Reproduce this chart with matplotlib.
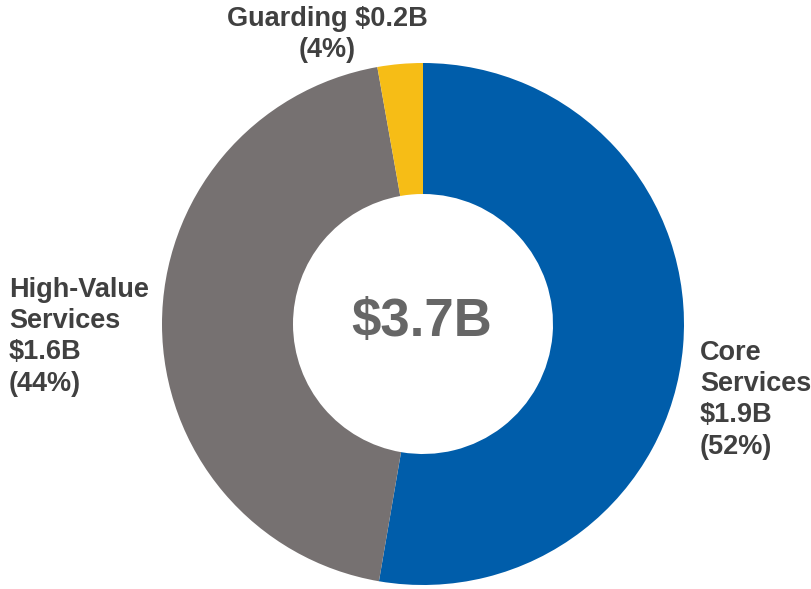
import matplotlib.pyplot as plt

segments = ['Core Services', 'High-Value Services', 'Guarding']
shares = [52.7, 44.5, 2.8]
labels = ['Core\nServices\n$1.9B\n(52%)',
          'High-Value\nServices\n$1.6B\n(44%)',
          'Guarding $0.2B\n(4%)']
total_label = '$3.7B'
colors = ['#005DAA', '#767171', '#F6BD16']

plt.rcParams['font.family'] = ['Liberation Sans', 'DejaVu Sans']

fig = plt.figure(figsize=(8.12, 5.89), dpi=100)
ax = fig.add_axes([0, 0, 1, 1])

ax.pie(shares, colors=colors, startangle=90, counterclock=False,
       center=(423, 265), radius=261,
       wedgeprops=dict(width=131, edgecolor='none'))
ax.set_xlim(0, 812)
ax.set_ylim(0, 589)
ax.set_aspect('equal')
ax.axis('off')

ax.text(422, 267, total_label, ha='center', va='center', fontsize=38,
        fontweight='bold', color='#666666')

txt = dict(fontsize=19.5, fontweight='bold', color='#404040', linespacing=1.26)
ax.text(700, 249, labels[0], ha='left', va='top', **txt)
ax.text(9, 312, labels[1], ha='left', va='top', **txt)
ax.text(327, 583, labels[2], ha='center', va='top', multialignment='center', **txt)

fig.savefig('out.png', dpi=100)
